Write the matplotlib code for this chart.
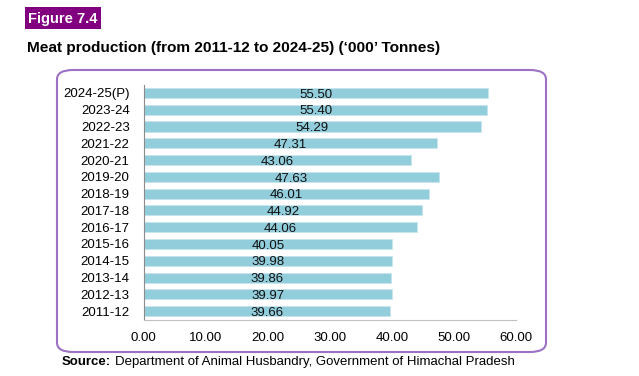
import matplotlib
matplotlib.use("Agg")
import matplotlib.pyplot as plt
from matplotlib.patches import FancyBboxPatch, Rectangle

plt.rcParams['font.family'] = ['Liberation Sans', 'DejaVu Sans']

years = ["2011-12", "2012-13", "2013-14", "2014-15", "2015-16", "2016-17", "2017-18",
         "2018-19", "2019-20", "2020-21", "2021-22", "2022-23", "2023-24", "2024-25(P)"]
values = [39.66, 39.97, 39.86, 39.98, 40.05, 44.06, 44.92,
          46.01, 47.63, 43.06, 47.31, 54.29, 55.40, 55.50]
xticks = [0, 10, 20, 30, 40, 50, 60]

W, H = 639, 376
fig = plt.figure(figsize=(W / 100, H / 100), dpi=100)

# rounded frame
frame = FancyBboxPatch((57 / W, 1 - 352 / H), (546 - 57) / W, (352 - 70) / H,
                       boxstyle="round,pad=0,rounding_size=0.025",
                       transform=fig.transFigure, facecolor="none",
                       edgecolor="#9b72c4", linewidth=1.5)
fig.patches.append(frame)

ax = fig.add_axes([143.5 / W, 1 - 319.5 / H, (516 - 143.5) / W, (319.5 - 84.5) / H])
ypos = list(range(len(years)))
ax.barh(ypos, values, height=0.6, color="#92cddc", edgecolor="#c9e6ee", linewidth=0.6)
for y, v in zip(ypos, values):
    ax.text(v / 2, y - 0.1, f"{v:.2f}", ha="center", va="center", fontsize=9.5, color="#111111")

ax.set_xlim(0, 60)
ax.set_ylim(-0.5, len(years) - 0.5)
ax.set_yticks(ypos)
ax.set_yticklabels(years, fontsize=9.5)
ax.set_xticks(xticks)
ax.set_xticklabels([f"{t:.2f}" for t in xticks], fontsize=9.5)
ax.tick_params(length=0)
ax.tick_params(axis='x', pad=9)
ax.tick_params(axis='y', pad=10)
for s in ["top", "right"]:
    ax.spines[s].set_visible(False)
ax.spines["left"].set_color("#8c8c8c")
ax.spines["bottom"].set_color("#c0c0c0")
ax.set_facecolor("none")

# Figure label
fig.patches.append(Rectangle((25 / W, 1 - 29 / H), 76 / W, 22 / H, transform=fig.transFigure,
                             facecolor="#800080", edgecolor="none"))
fig.text(63 / W, 1 - 18.5 / H, "Figure 7.4", fontsize=10.5, fontweight="bold", color="white",
         va="center", ha="center")
fig.text(27 / W, 1 - 48 / H, "Meat production (from 2011-12 to 2024-25) (\u2018000\u2019 Tonnes)",
         fontsize=11.1, fontweight="bold", va="center", ha="left")
fig.text(62 / W, 1 - 362 / H, "Source:", fontsize=9.5, fontweight="bold", va="center", ha="left")
fig.text(115 / W, 1 - 362 / H, "Department of Animal Husbandry, Government of Himachal Pradesh",
         fontsize=9.5, va="center", ha="left")

fig.savefig("out.png", dpi=100)
